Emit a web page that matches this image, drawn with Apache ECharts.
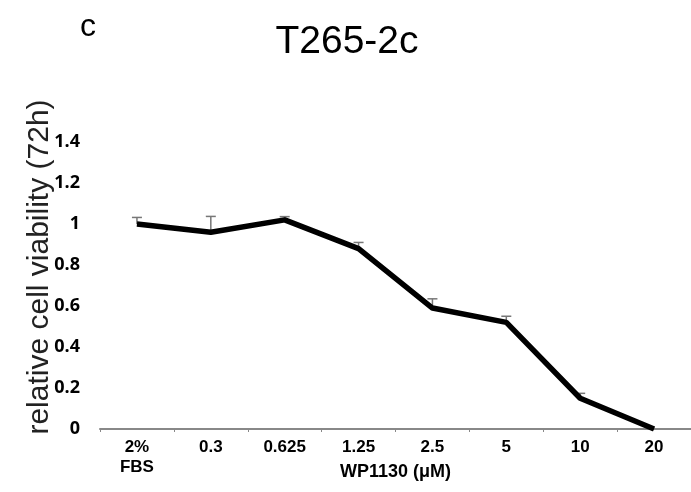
<!DOCTYPE html>
<html><head><meta charset="utf-8">
<script src="https://cdn.jsdelivr.net/npm/echarts@6/dist/echarts.min.js"></script>
<style>html,body{margin:0;padding:0;background:#fff}#c{width:691px;height:492px}</style>
</head><body><div id="c"></div>
<script>
const categories = ['2%\nFBS', '0.3', '0.625', '1.25', '2.5', '5', '10', '20'];
const viability = [1.00, 0.96, 1.02, 0.88, 0.59, 0.52, 0.15, 0.00];
const errorUp = [0.032, 0.077, 0.016, 0.03, 0.045, 0.03, 0.024, 0];
const yTicks = [0, 0.2, 0.4, 0.6, 0.8, 1, 1.2, 1.4];

const chart = echarts.init(document.getElementById('c'));
chart.setOption({
  animation: false,
  backgroundColor: '#fff',
  graphic: [
    { type: 'text', x: 88, y: 27, style: { text: 'c', fontSize: 32, fontFamily: 'Liberation Sans', fill: '#000', textAlign: 'center', textVerticalAlign: 'middle' } },
    { type: 'text', x: 347, y: 42, style: { text: 'T265-2c', fontSize: 39, fontFamily: 'Liberation Sans', fill: '#000', textAlign: 'center', textVerticalAlign: 'middle' } },
    { type: 'text', x: 40, y: 267, rotation: Math.PI / 2, style: { text: 'relative cell viability (72h)', fontSize: 30, fontFamily: 'Liberation Sans', fill: '#222', textAlign: 'center', textVerticalAlign: 'middle' } }
  ],
  grid: { left: 100, top: 142, width: 594, bottom: 63, containLabel: false },
  xAxis: {
    type: 'category',
    data: categories,
    boundaryGap: true,
    name: 'WP1130 (μM)',
    nameLocation: 'middle',
    nameGap: 34,
    nameMoveOverlap: false,
    nameTextStyle: { fontSize: 18, fontWeight: 'bold', fontFamily: 'Liberation Sans', color: '#000', verticalAlign: 'top' },
    axisLine: { lineStyle: { color: '#888', width: 2 } },
    axisTick: { show: true, length: 3, lineStyle: { color: '#888' } },
    axisLabel: { interval: 0, margin: 8, fontSize: 17, fontWeight: 'bold', fontFamily: 'Liberation Sans', color: '#000', lineHeight: 20 }
  },
  yAxis: {
    type: 'value',
    min: 0, max: yTicks[yTicks.length - 1], interval: 0.2,
    axisLine: { show: false },
    axisTick: { show: false },
    splitLine: { show: false },
    axisLabel: { margin: 20, fontSize: 18, fontWeight: 'bold', fontFamily: 'Open Sans', color: '#000' }
  },
  series: [
    {
      type: 'custom',
      z: 1,
      renderItem: function (params, api) {
        const i = api.value(0);
        const v = api.value(1);
        const e = api.value(2);
        if (!e) return null;
        const p0 = api.coord([i, v]);
        const p1 = api.coord([i, v + e]);
        const style = { stroke: '#777', lineWidth: 1.5 };
        return {
          type: 'group',
          children: [
            { type: 'line', shape: { x1: p0[0], y1: p0[1], x2: p1[0], y2: p1[1] }, style: style },
            { type: 'line', shape: { x1: p1[0] - 5, y1: p1[1], x2: p1[0] + 5, y2: p1[1] }, style: style }
          ]
        };
      },
      data: viability.map((v, i) => [i, v, errorUp[i]])
    },
    {
      type: 'line',
      z: 2,
      data: viability,
      symbol: 'none',
      lineStyle: { color: '#000', width: 5.5 },
      itemStyle: { color: '#000' }
    }
  ]
});
</script></body></html>
